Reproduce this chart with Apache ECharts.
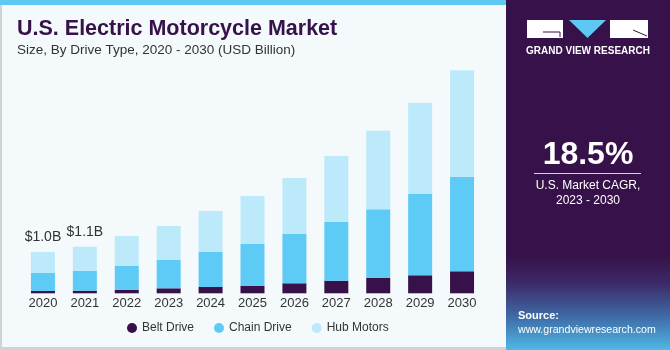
<!DOCTYPE html>
<html>
<head>
<meta charset="utf-8">
<script src="https://cdn.jsdelivr.net/npm/echarts@6/dist/echarts.min.js"></script>
<style>
  html, body { margin: 0; padding: 0; background: #fff; }
  #chart { width: 670px; height: 350px; }
</style>
</head>
<body>
<div id="chart"></div>
<script>
// data (USD Billion)
var years = ['2020', '2021', '2022', '2023', '2024', '2025', '2026', '2027', '2028', '2029', '2030'];
var beltDrive = [0.056, 0.063, 0.087, 0.121, 0.153, 0.184, 0.242, 0.305, 0.370, 0.436, 0.533];
var chainDrive = [0.443, 0.484, 0.581, 0.685, 0.847, 1.010, 1.200, 1.421, 1.663, 1.969, 2.290];
var hubMotors = [0.501, 0.581, 0.719, 0.823, 0.993, 1.162, 1.349, 1.598, 1.903, 2.211, 2.580];
var totalLabels = ['$1.0B', '$1.1B'];

var chart = echarts.init(document.getElementById('chart'));
var font = '"Liberation Sans", Arial, sans-serif';

chart.setOption({
  animation: false,
  textStyle: { fontFamily: font },
  graphic: [
    // left panel background and border
    { type: 'rect', z: -10, shape: { x: 0, y: 0, width: 506, height: 350 }, style: { fill: '#f4f9fc' } },
    { type: 'rect', z: -9, shape: { x: 0, y: 0, width: 2, height: 350 }, style: { fill: '#cfd3d6' } },
    { type: 'rect', z: -9, shape: { x: 0, y: 347, width: 506, height: 3 }, style: { fill: '#cfd3d6' } },
    { type: 'rect', z: -9, shape: { x: 0, y: 0, width: 506, height: 5 }, style: { fill: '#5ec8f2' } },
    // right panel
    { type: 'rect', z: -10, shape: { x: 506, y: 0, width: 164, height: 350 }, style: { fill: '#371149' } },
    {
      type: 'rect', z: -9, shape: { x: 506, y: 255, width: 164, height: 95 },
      style: {
        fill: new echarts.graphic.LinearGradient(0, 0, 0, 1, [
          { offset: 0, color: '#371149' },
          { offset: 0.3, color: '#3c2a68' },
          { offset: 0.65, color: '#3f6ba6' },
          { offset: 1, color: '#4fb8e6' }
        ])
      }
    },
    // logo
    { type: 'rect', shape: { x: 527, y: 20, width: 36, height: 18 }, style: { fill: '#ffffff' } },
    { type: 'polyline', shape: { points: [[543, 32], [560, 32], [560, 37]] }, style: { stroke: '#371149', lineWidth: 1, fill: null } },
    { type: 'polygon', shape: { points: [[569, 20], [606, 20], [587.5, 38]] }, style: { fill: '#5ec8f2' } },
    { type: 'rect', shape: { x: 610, y: 20, width: 38, height: 18 }, style: { fill: '#ffffff' } },
    { type: 'line', shape: { x1: 633, y1: 30, x2: 647, y2: 36 }, style: { stroke: '#371149', lineWidth: 1 } },
    {
      type: 'text', style: {
        x: 588, y: 51, text: 'GRAND VIEW RESEARCH', align: 'center', verticalAlign: 'middle',
        fill: '#ffffff', font: 'bold 10px ' + font
      }
    },
    // CAGR
    {
      type: 'text', style: {
        x: 588, y: 155, text: '18.5%', align: 'center', verticalAlign: 'middle',
        fill: '#ffffff', font: 'bold 32px ' + font
      }
    },
    { type: 'line', shape: { x1: 534, y1: 173.5, x2: 641, y2: 173.5 }, style: { stroke: '#d8cfe0', lineWidth: 1 } },
    {
      type: 'text', style: {
        x: 588, y: 186, text: 'U.S. Market CAGR,', align: 'center', verticalAlign: 'middle',
        fill: '#ffffff', font: '12px ' + font
      }
    },
    {
      type: 'text', style: {
        x: 588, y: 201, text: '2023 - 2030', align: 'center', verticalAlign: 'middle',
        fill: '#ffffff', font: '12px ' + font
      }
    },
    // source
    {
      type: 'text', style: {
        x: 518, y: 316, text: 'Source:', verticalAlign: 'middle',
        fill: '#ffffff', font: 'bold 11px ' + font
      }
    },
    {
      type: 'text', style: {
        x: 518, y: 330, text: 'www.grandviewresearch.com', verticalAlign: 'middle',
        fill: '#ffffff', font: '10.6px ' + font
      }
    }
  ],
  title: {
    text: 'U.S. Electric Motorcycle Market',
    subtext: 'Size, By Drive Type, 2020 - 2030 (USD Billion)',
    left: 12,
    top: 13,
    itemGap: 3,
    textStyle: { fontFamily: font, fontSize: 21.5, fontWeight: 'bold', color: '#371149' },
    subtextStyle: { fontFamily: font, fontSize: 13.5, color: '#333333' }
  },
  legend: {
    bottom: 11,
    left: 122,
    icon: 'circle',
    itemWidth: 10,
    itemHeight: 10,
    itemGap: 20,
    textStyle: { fontFamily: font, fontSize: 12, color: '#333333' },
    data: ['Belt Drive', 'Chain Drive', 'Hub Motors']
  },
  grid: { left: 22, right: 187, top: 45.5, bottom: 56.7 },
  xAxis: {
    type: 'category',
    data: years,
    axisLine: { show: false },
    axisTick: { show: false },
    axisLabel: { fontFamily: font, fontSize: 13, color: '#333333', margin: 4 }
  },
  yAxis: {
    type: 'value',
    min: 0,
    max: 6,
    show: false,
    splitLine: { show: false }
  },
  series: [
    {
      name: 'Belt Drive', type: 'bar', stack: 'total', barWidth: 24,
      itemStyle: { color: '#371149' }, data: beltDrive
    },
    {
      name: 'Chain Drive', type: 'bar', stack: 'total', barWidth: 24,
      itemStyle: { color: '#5ecbf7' }, data: chainDrive
    },
    {
      name: 'Hub Motors', type: 'bar', stack: 'total', barWidth: 24,
      itemStyle: { color: '#bdeafa' }, data: hubMotors,
      label: {
        show: true, position: 'top', distance: 8,
        fontFamily: font, fontSize: 14, color: '#333333',
        formatter: function (p) { return totalLabels[p.dataIndex] || ''; }
      }
    }
  ]
});
</script>
</body>
</html>
